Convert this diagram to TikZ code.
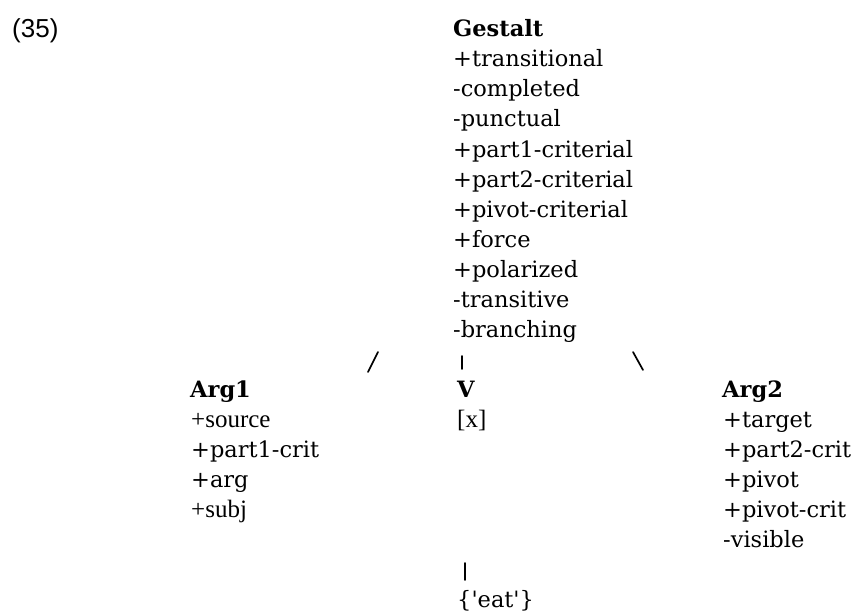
\documentclass[tikz,border=0pt]{standalone}
\usepackage{fontspec}
\setmainfont{DejaVu Serif}
\newfontfamily\timesfont{Liberation Serif}
\newfontfamily\numfont{Liberation Sans}
\begin{document}
\begin{tikzpicture}[x=1pt,y=-1pt,
  feat/.style={anchor=base west,inner sep=0pt,font=\fontsize{22.5}{30}\selectfont},
  featT/.style={anchor=base west,inner sep=0pt,font=\timesfont\fontsize{25}{30}\selectfont},
  head/.style={feat,font=\bfseries\fontsize{22.5}{30}\selectfont},
  tick/.style={line width=1.7pt,line cap=round}]
\useasboundingbox (0,0) rectangle (853,615);

% example number
\node[anchor=base west,inner sep=0pt,font=\numfont\fontsize{26}{30}\selectfont] (num) at (12,38) {(35)};

% mother node: the gestalt and its features
\node[head] (g-0) at (453,37) {Gestalt};
\foreach \t [count=\i] in {+transitional,-completed,-punctual,+part1-criterial,
    +part2-criterial,+pivot-criterial,+force,+polarized,-transitive,-branching}
  \node[feat] (g-\i) at (453,37+30*\i) {\t};

% left daughter
\node[head] (a-0) at (190,397) {Arg1};
\node[featT] (a-1) at (191,427) {+source};
\node[feat] (a-2) at (191,457) {+part1-crit};
\node[feat] (a-3) at (191,487) {+arg};
\node[featT] (a-4) at (191,517) {+subj};

% head daughter
\node[head] (v-0) at (457,397) {V};
\node[featT] (v-1) at (457,427) {[x]};

% right daughter
\node[head] (b-0) at (722,397) {Arg2};
\foreach \t [count=\i] in {+target,+part2-crit,+pivot,+pivot-crit,-visible}
  \node[feat] (b-\i) at (723,397+30*\i) {\t};

% lexical item
\node[feat] (eat) at (457,607) {\{\textquotesingle eat\textquotesingle\}};

% branches
\coordinate (l1) at (368,372);
\coordinate (l2) at (378,352);
\coordinate (m1) at (462,356);
\coordinate (m2) at (462,369);
\coordinate (r1) at (633,352);
\coordinate (r2) at (643,370);
\coordinate (e1) at (465,563);
\coordinate (e2) at (465,580);
\draw[tick] (l1) -- (l2);
\draw[tick] (m1) -- (m2);
\draw[tick] (r1) -- (r2);
\draw[tick] (e1) -- (e2);
\end{tikzpicture}
\end{document}
